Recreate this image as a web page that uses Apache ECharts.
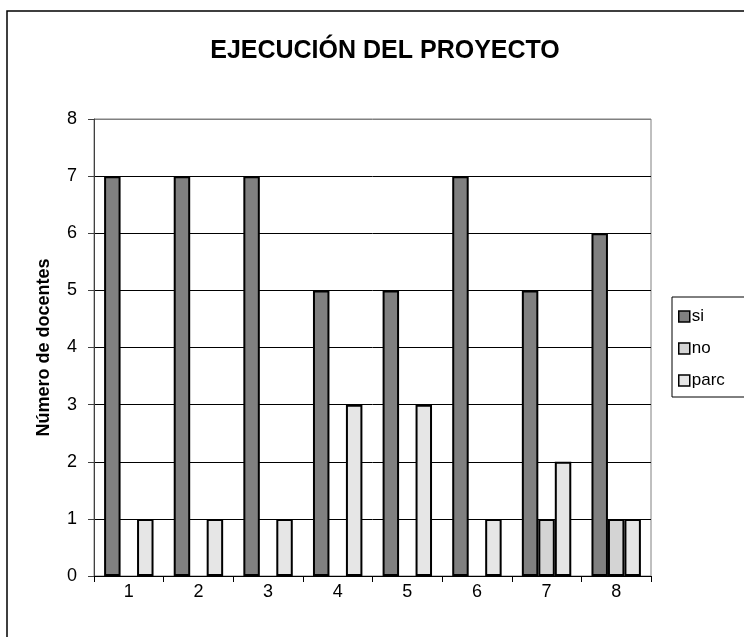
<!DOCTYPE html>
<html>
<head>
<meta charset="utf-8">
<script src="https://cdn.jsdelivr.net/npm/echarts@6/dist/echarts.min.js"></script>
<style>
  html, body { margin: 0; padding: 0; background: #fff; }
  #chart { width: 744px; height: 637px; }
</style>
</head>
<body>
<div id="chart"></div>
<script>
// Project execution survey: teachers per item, by answer
const categories = ['1', '2', '3', '4', '5', '6', '7', '8'];
const siValues   = [7, 7, 7, 5, 5, 7, 5, 6];
const noValues   = [0, 0, 0, 0, 0, 0, 1, 1];
const parcValues = [1, 1, 1, 3, 3, 1, 2, 1];
const yTicks = [0, 1, 2, 3, 4, 5, 6, 7, 8];

const FONT = '"Liberation Sans", Arial, sans-serif';
const barBorder = { borderColor: '#000', borderWidth: 2 };

// grid lines black, the top one (plot frame) gray
const gridColors = yTicks.map((t, i) => (i === yTicks.length - 1 ? '#808080' : '#000'));

const chart = echarts.init(document.getElementById('chart'), null, { renderer: 'canvas' });
chart.setOption({
  animation: false,
  backgroundColor: '#fff',
  textStyle: { fontFamily: FONT, color: '#000' },
  graphic: [{
    type: 'rect',
    shape: { x: 7, y: 11, width: 800, height: 700 },
    style: { fill: 'none', stroke: '#000', lineWidth: 1.5 },
    silent: true, z: -1
  }],
  title: {
    text: 'EJECUCIÓN DEL PROYECTO',
    left: 380, top: 34, textAlign: 'center',
    textStyle: { fontFamily: FONT, fontSize: 25, fontWeight: 'bold', color: '#000' }
  },
  legend: {
    orient: 'vertical',
    left: 672, top: 297,
    width: 72,
    padding: [11, 30, 8, 6],
    itemWidth: 11, itemHeight: 11, itemGap: 15,
    borderColor: '#000', borderWidth: 1,
    icon: 'rect',
    itemStyle: { borderColor: '#000', borderWidth: 1.5 },
    textStyle: { fontFamily: FONT, fontSize: 17, color: '#000', padding: [0, 0, 0, -3] },
    data: ['si', 'no', 'parc']
  },
  grid: {
    left: 94, right: 93, top: 119, bottom: 61,
    show: true, borderColor: '#808080', borderWidth: 1, backgroundColor: '#fff'
  },
  xAxis: {
    type: 'category',
    data: categories,
    axisLine: { lineStyle: { color: '#000', width: 1 } },
    axisTick: { show: true, length: 6, lineStyle: { color: '#000' } },
    axisLabel: { fontFamily: FONT, fontSize: 18, color: '#000', margin: 7 },
    splitLine: { show: false }
  },
  yAxis: {
    type: 'value',
    min: 0, max: 8, interval: 1,
    name: 'Número de docentes',
    nameLocation: 'middle',
    nameGap: 41,
    nameTextStyle: { fontFamily: FONT, fontSize: 18, fontWeight: 'bold', color: '#000' },
    axisLine: { show: true, lineStyle: { color: '#404040', width: 1 } },
    axisTick: { show: true, length: 6, lineStyle: { color: '#404040' } },
    axisLabel: { fontFamily: FONT, fontSize: 18, color: '#000', margin: 17 },
    splitLine: { show: true, lineStyle: { color: gridColors, width: 1 } }
  },
  series: [
    { name: 'si',   type: 'bar', data: siValues,   barGap: '0%', barCategoryGap: '29%',
      itemStyle: Object.assign({ color: '#808080' }, barBorder) },
    { name: 'no',   type: 'bar', data: noValues.map(v => (v === 0 ? '-' : v)), barGap: '0%', barCategoryGap: '29%',
      itemStyle: Object.assign({ color: '#d4d4d4' }, barBorder) },
    { name: 'parc', type: 'bar', data: parcValues, barGap: '0%', barCategoryGap: '29%',
      itemStyle: Object.assign({ color: '#e6e6e6' }, barBorder) }
  ]
});
</script>
</body>
</html>
